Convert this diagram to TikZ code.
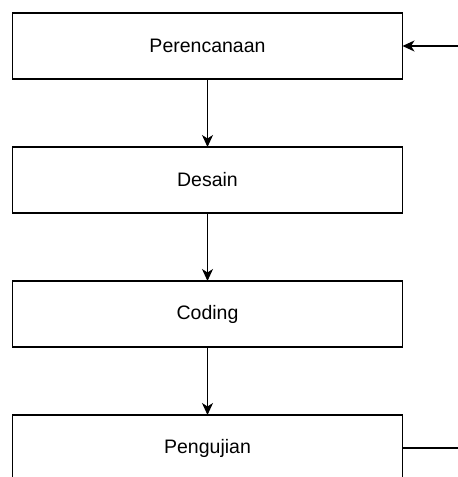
\documentclass[tikz,border=0pt]{standalone}
\usepackage{fontspec}
\setmainfont{Liberation Sans}
\usepackage{tikz}
\usetikzlibrary{arrows.meta,positioning}

\tikzset{
	tahap/.style={draw,line width=1.2pt,minimum width=390pt,minimum height=66pt,outer sep=0pt,font=\fontsize{19.5}{22}\selectfont,inner sep=0pt},
	panah/.style={-{Stealth[length=12pt,width=11pt,inset=3.5pt]},line width=1.2pt}
}

\begin{document}
\begin{tikzpicture}[x=1pt,y=1pt,node distance=68pt]
		\useasboundingbox (0,0) rectangle (458,477);
		\clip (0,0) rectangle (458,477);
		\node[tahap] (rencana) at (207.5,431) {Perencanaan};
		\node[tahap,below=of rencana] (desain) {Desain};
		\node[tahap,below=of desain] (coding) {Coding};
		\node[tahap,below=of coding] (uji) {Pengujian};
		\coordinate (masuk) at (458,431);
		\coordinate (keluar) at (uji.east -| masuk);
		\draw[panah] (rencana) -- (desain);
		\draw[panah] (desain) -- (coding);
		\draw[panah] (coding) -- (uji);
		\draw[panah] (masuk) -- (rencana.east);
		\draw[line width=1.2pt] (uji.east) -- (keluar);
	\end{tikzpicture}
\end{document}
